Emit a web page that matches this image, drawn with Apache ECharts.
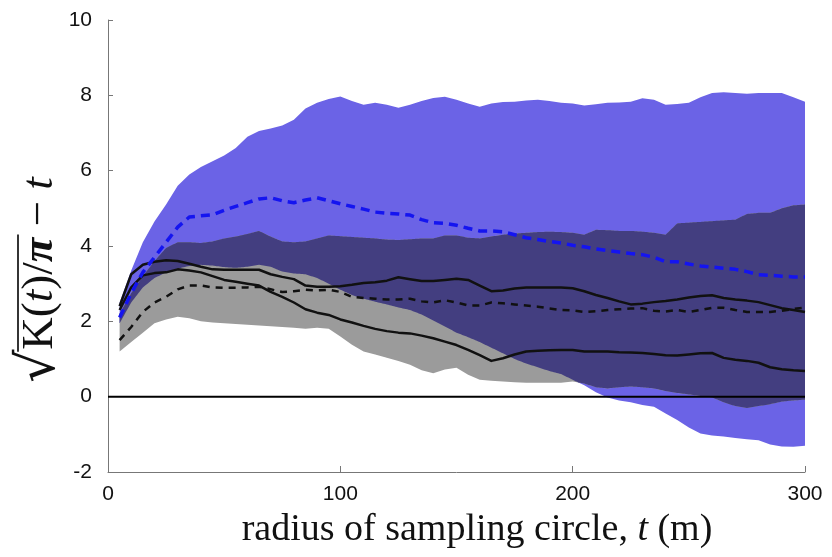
<!DOCTYPE html>
<html><head><meta charset="utf-8">
<script src="https://cdn.jsdelivr.net/npm/echarts@6/dist/echarts.min.js"></script>
<style>html,body{margin:0;padding:0;background:#fff}#c{width:832px;height:557px}</style>
</head><body><div id="c"></div>
<script>
const radius = [5,10,15,20,25,30,35,40,45,50, 55,60,65,70,75,80,85,90,95,100, 105,110,115,120,125,130,135,140,145,150, 155,160,165,170,175,180,185,190,195,200, 205,210,215,220,225,230,235,240,245,250, 255,260,265,270,275,280,285,290,295,300];

const blueUpper = [2.5,3.35,4.1,4.65,5.1,5.6,5.9,6.1,6.25,6.4, 6.6,6.9,7.05,7.12,7.2,7.35,7.65,7.8,7.9,7.97, 7.85,7.75,7.8,7.75,7.67,7.75,7.85,7.93,7.96,7.88, 7.78,7.7,7.78,7.82,7.83,7.86,7.88,7.85,7.8,7.78, 7.73,7.76,7.8,7.81,7.83,7.92,7.88,7.75,7.77,7.8, 7.95,8.06,8.08,8.06,8.04,8.06,8.06,8.06,7.95,7.83];
const blueLower = [1.95,2.5,2.9,3.15,3.3,3.4,3.47,3.5,3.48,3.44, 3.42,3.45,3.5,3.45,3.32,3.27,3.25,3.15,3.0,2.84, 2.7,2.6,2.52,2.45,2.37,2.3,2.18,2.02,1.86,1.7, 1.58,1.45,1.3,1.15,1.0,0.88,0.78,0.68,0.6,0.45, 0.3,0.12,-0.02,-0.1,-0.15,-0.22,-0.27,-0.45,-0.62,-0.82, -0.98,-1.03,-1.06,-1.1,-1.13,-1.16,-1.27,-1.32,-1.33,-1.3];
const grayUpper = [2.2,2.75,3.2,3.6,3.95,4.1,4.1,4.08,4.12,4.2, 4.25,4.32,4.4,4.25,4.12,4.1,4.12,4.2,4.28,4.26, 4.24,4.22,4.2,4.17,4.16,4.18,4.2,4.2,4.28,4.28, 4.22,4.2,4.25,4.3,4.33,4.35,4.37,4.38,4.37,4.35, 4.3,4.43,4.42,4.4,4.4,4.38,4.35,4.3,4.6,4.62, 4.64,4.66,4.68,4.7,4.85,4.88,4.88,5.0,5.08,5.1];
const grayLower = [1.2,1.45,1.7,1.95,2.05,2.12,2.08,2.0,1.97,1.95, 1.93,1.91,1.89,1.87,1.85,1.83,1.8,1.83,1.8,1.6, 1.38,1.2,1.12,1.03,0.95,0.85,0.7,0.62,0.72,0.77, 0.58,0.45,0.42,0.4,0.38,0.37,0.37,0.37,0.37,0.4, 0.35,0.25,0.22,0.25,0.27,0.25,0.22,0.15,0.1,0.06, 0.02,-0.02,-0.15,-0.25,-0.3,-0.25,-0.2,-0.13,-0.1,-0.08];

const solidUpper = [2.4,3.25,3.5,3.58,3.62,3.6,3.53,3.45,3.38,3.37, 3.37,3.37,3.37,3.25,3.18,3.12,2.95,2.92,2.92,2.93, 2.97,3.02,3.04,3.08,3.17,3.12,3.07,3.07,3.1,3.13, 3.1,2.95,2.8,2.82,2.87,2.9,2.9,2.9,2.9,2.88, 2.8,2.7,2.62,2.53,2.45,2.47,2.51,2.54,2.58,2.63, 2.67,2.69,2.62,2.58,2.55,2.51,2.43,2.35,2.3,2.25];
const solidLower = [2.3,2.9,3.22,3.28,3.3,3.38,3.35,3.3,3.2,3.1, 3.05,3.0,2.95,2.78,2.65,2.5,2.32,2.23,2.17,2.05, 1.97,1.88,1.8,1.74,1.7,1.68,1.62,1.55,1.46,1.37, 1.24,1.1,0.95,1.02,1.12,1.2,1.22,1.23,1.24,1.24, 1.2,1.2,1.2,1.18,1.17,1.16,1.13,1.1,1.09,1.12, 1.15,1.16,1.03,0.98,0.95,0.9,0.78,0.73,0.7,0.68];
const blackDashed = [1.5,1.85,2.25,2.5,2.65,2.85,2.95,2.95,2.9,2.89, 2.89,2.9,2.92,2.85,2.78,2.8,2.84,2.82,2.84,2.78, 2.65,2.62,2.6,2.58,2.58,2.6,2.53,2.5,2.56,2.5, 2.42,2.42,2.5,2.48,2.45,2.42,2.39,2.34,2.3,2.29, 2.25,2.27,2.3,2.32,2.34,2.35,2.28,2.26,2.3,2.25, 2.3,2.36,2.36,2.3,2.25,2.25,2.25,2.28,2.33,2.36];
const blueDashed = [2.1,2.75,3.3,3.7,4.1,4.5,4.77,4.8,4.83,4.95, 5.05,5.15,5.25,5.28,5.2,5.15,5.22,5.28,5.2,5.12, 5.05,4.98,4.9,4.87,4.85,4.82,4.7,4.62,4.6,4.55, 4.47,4.4,4.4,4.38,4.3,4.22,4.17,4.12,4.08,4.02, 3.98,3.92,3.88,3.84,3.8,3.77,3.7,3.58,3.58,3.52, 3.47,3.44,3.41,3.38,3.32,3.24,3.22,3.2,3.18,3.18];

const xTicks = [0, 100, 200, 300];
const yTicks = [-2, 0, 2, 4, 6, 8, 10];
const zeroLevel = 0;

function pairs(ys) { return radius.map((x, i) => [x, ys[i]]); }

// filled band between two bound arrays, drawn as one polygon through the cartesian scales
function band(id, lower, upper, color) {
  return {
    type: 'custom', id: id, coordinateSystem: 'cartesian2d', silent: true, animation: false,
    data: [[radius[0], lower[0]]],
    encode: { x: 0, y: 1 },
    renderItem: function (params, api) {
      const pts = [];
      for (let i = 0; i < radius.length; i++) pts.push(api.coord([radius[i], upper[i]]));
      for (let i = radius.length - 1; i >= 0; i--) pts.push(api.coord([radius[i], lower[i]]));
      return { type: 'polygon', shape: { points: pts }, style: { fill: color, stroke: null } };
    }
  };
}

// overlap of blue and gray envelopes (sub-sampled so the crossings are accurate)
function overlapBand(color) {
  return {
    type: 'custom', id: 'overlap', coordinateSystem: 'cartesian2d', silent: true, animation: false,
    data: [[radius[0], 0]],
    encode: { x: 0, y: 1 },
    renderItem: function (params, api) {
      const up = [], dn = [];
      const n = radius.length - 1;
      for (let i = 0; i <= n; i++) {
        const steps = i < n ? 8 : 1;
        for (let k = 0; k < steps; k++) {
          const f = k / 8;
          const j = i < n ? i + 1 : i;
          const x = radius[i] + (radius[j] - radius[i]) * f;
          const L = (a) => a[i] + (a[j] - a[i]) * f;
          const l = Math.max(L(blueLower), L(grayLower));
          const h = Math.max(l, Math.min(L(blueUpper), L(grayUpper)));
          up.push(api.coord([x, h])); dn.push(api.coord([x, l]));
        }
      }
      const pts = up.concat(dn.reverse());
      return { type: 'polygon', shape: { points: pts }, style: { fill: color, stroke: null } };
    }
  };
}

function lineSeries(id, ys, color, width, type) {
  return { type: 'line', id: id, data: pairs(ys), symbol: 'none', silent: true, animation: false,
    lineStyle: { color: color, width: width, type: type, cap: 'butt', join: 'round' } };
}

// y-axis title pieces, laid out along the rotated baseline
const FS = 45;
const parts = [
  { s: '\u221A', fs: Math.round(FS * 1.15), fam: 'DejaVu Serif', style: {} },
  { s: 'K(', fs: FS, fam: 'Liberation Serif', style: {} },
  { s: 't', fs: FS, fam: 'Liberation Serif', style: { fontStyle: 'italic' } },
  { s: ')/', fs: FS, fam: 'Liberation Serif', style: {} },
  { s: '\u03C0', fs: FS, fam: 'Liberation Serif', style: { fontStyle: 'italic', fontWeight: 'bold' } },
  { s: ' \u2212 ', fs: FS, fam: 'Liberation Serif', style: {} },
  { s: 't', fs: FS, fam: 'Liberation Serif', style: { fontStyle: 'italic' } }
];
const mctx = document.createElement('canvas').getContext('2d');
const widths = parts.map(p => {
  mctx.font = (p.style.fontStyle || '') + ' ' + (p.style.fontWeight || '') + ' ' + p.fs + 'px "' + p.fam + '"';
  return mctx.measureText(p.s).width;
});
const totalW = widths.reduce((a, b) => a + b, 0);
let cursor = -totalW / 2;
const titleChildren = [];
const starts = [];
parts.forEach((p, i) => {
  starts.push(cursor);
  titleChildren.push({
    type: 'text', x: cursor, y: 0,
    style: Object.assign({ text: p.s, fontSize: p.fs, fontFamily: p.fam,
      fill: '#111', align: 'left', verticalAlign: 'middle' }, p.style)
  });
  cursor += widths[i];
});
const barStart = starts[1] - 2;
const barEnd = starts[5] + 3;
titleChildren.push({ type: 'line', shape: { x1: barStart, y1: -22, x2: barEnd, y2: -22 },
  style: { stroke: '#111', lineWidth: 1.7 } });

const chart = echarts.init(document.getElementById('c'), null, { renderer: 'canvas' });
chart.setOption({
  backgroundColor: '#ffffff',
  animation: false,
  grid: { left: 108, right: 27, top: 20, bottom: 85 },
  xAxis: {
    type: 'value', min: xTicks[0], max: xTicks[xTicks.length - 1], interval: 100,
    axisLine: { show: true, onZero: false, lineStyle: { color: '#777', width: 1 } },
    axisTick: { show: true, inside: true, length: 6, lineStyle: { color: '#777' } },
    splitLine: { show: false },
    axisLabel: { color: '#111', fontSize: 21, fontFamily: 'Liberation Sans', margin: 12 }
  },
  yAxis: {
    type: 'value', min: yTicks[0], max: yTicks[yTicks.length - 1], interval: 2,
    axisLine: { show: true, lineStyle: { color: '#777', width: 1 } },
    axisTick: { show: true, inside: true, length: 5, lineStyle: { color: '#777' } },
    splitLine: { show: false },
    axisLabel: { color: '#111', fontSize: 21, fontFamily: 'Liberation Sans', margin: 16 }
  },
  series: [
    band('blue', blueLower, blueUpper, '#6b63e6'),
    band('gray', grayLower, grayUpper, '#9b9b9b'),
    overlapBand('#433e80'),
    { type: 'line', id: 'zero', data: [[xTicks[0], zeroLevel], [xTicks[xTicks.length - 1], zeroLevel]], symbol: 'none',
      silent: true, lineStyle: { color: '#000', width: 2 } },
    lineSeries('solidUpper', solidUpper, '#111', 2.5, 'solid'),
    lineSeries('solidLower', solidLower, '#111', 2.5, 'solid'),
    lineSeries('blackDashed', blackDashed, '#111', 2.5, [7, 6]),
    lineSeries('blueDashed', blueDashed, '#1414f0', 3.5, [9, 6])
  ],
  graphic: [
    {
      type: 'text', x: 477, y: 530,
      style: {
        text: '{a|radius of sampling circle, }{i|t}{a| (m)}',
        align: 'center', verticalAlign: 'middle',
        rich: {
          a: { fontFamily: 'Liberation Serif', fontSize: 38, fill: '#111' },
          i: { fontFamily: 'Liberation Serif', fontSize: 38, fontStyle: 'italic', fill: '#111' }
        }
      }
    },
    { type: 'group', x: 40, y: 280, rotation: Math.PI / 2, children: titleChildren }
  ]
});
</script></body></html>
